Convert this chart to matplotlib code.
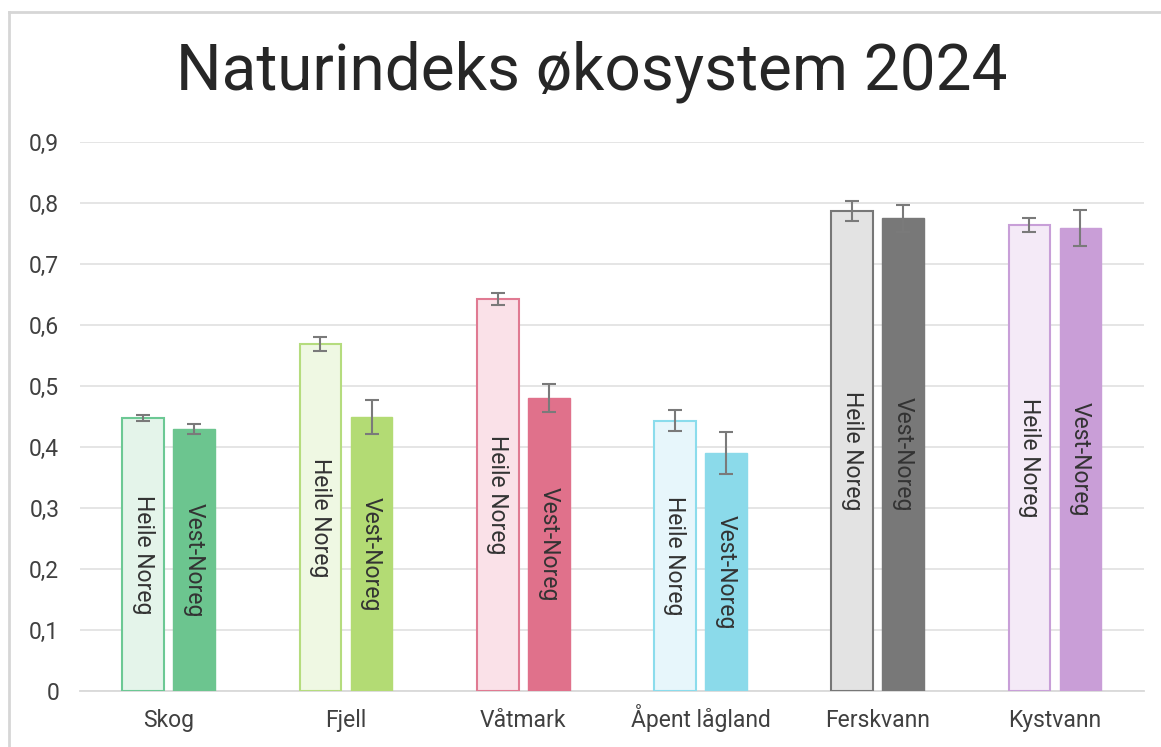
import matplotlib
matplotlib.use("Agg")
import matplotlib.pyplot as plt
import numpy as np
from matplotlib.lines import Line2D

plt.rcParams['font.family'] = ['Roboto', 'DejaVu Sans']

categories = ["Skog", "Fjell", "Våtmark", "Åpent lågland", "Ferskvann", "Kystvann"]
heile = [0.447, 0.569, 0.643, 0.443, 0.787, 0.764]
heile_err = [0.005, 0.012, 0.010, 0.017, 0.016, 0.011]
vest = [0.430, 0.449, 0.480, 0.390, 0.775, 0.759]
vest_err = [0.008, 0.028, 0.023, 0.034, 0.022, 0.030]
series_names = ["Heile Noreg", "Vest-Noreg"]
yticks = [0, 0.1, 0.2, 0.3, 0.4, 0.5, 0.6, 0.7, 0.8, 0.9]
ytick_labels = ["0", "0,1", "0,2", "0,3", "0,4", "0,5", "0,6", "0,7", "0,8", "0,9"]

heile_fill = ["#e4f4ea", "#eff8e3", "#fae1e8", "#e7f6fb", "#e3e3e3", "#f4eaf7"]
heile_edge = ["#6cc894", "#b5dc7e", "#e07a92", "#8bdcec", "#777777", "#c89fd8"]
vest_fill = ["#6cc58f", "#b3db74", "#e0718b", "#8bdaea", "#787878", "#c99ed7"]

fig = plt.figure(figsize=(11.61, 7.47), dpi=100)
ax = fig.add_axes([0.069, 0.075, 0.916, 0.735])

x = np.arange(len(categories))
w = 0.235
off = 0.144
err_kw = dict(ecolor="#7a7a7a", elinewidth=1.5, capsize=5, capthick=1.5)
ax.bar(x - off, heile, w, color=heile_fill, edgecolor=heile_edge, linewidth=1.5,
       yerr=heile_err, error_kw=err_kw, zorder=3)
ax.bar(x + off, vest, w, color=vest_fill, edgecolor=vest_fill, linewidth=1.0,
       yerr=vest_err, error_kw=err_kw, zorder=3)

for i in range(len(categories)):
    ax.text(x[i] - off, heile[i] / 2, series_names[0], rotation=-90, ha="center", va="center",
            fontsize=16.5, color="#333333", zorder=4)
    ax.text(x[i] + off, vest[i] / 2, series_names[1], rotation=-90, ha="center", va="center",
            fontsize=16.5, color="#333333", zorder=4)

ax.set_xlim(-0.5, len(categories) - 0.5)
ax.set_ylim(0, 0.9)
ax.set_yticks(yticks)
ax.set_yticklabels(ytick_labels)
ax.set_xticks(x)
ax.set_xticklabels(categories)
ax.tick_params(axis="y", length=0, labelsize=16.5, colors="#404040", pad=15)
ax.tick_params(axis="x", length=0, labelsize=16.5, colors="#404040", pad=26)
for lbl in ax.get_xticklabels():
    lbl.set_va("baseline")
for s in ["top", "right", "left"]:
    ax.spines[s].set_visible(False)
ax.spines["bottom"].set_color("#d9d9d9")
ax.spines["bottom"].set_linewidth(1.3)
ax.grid(axis="y", color="#e3e3e3", linewidth=1.3, zorder=0)
ax.set_axisbelow(True)

fig.text(0.51, 0.904, "Naturindeks økosystem 2024", ha="center", va="center",
         fontsize=46, color="#262626")

# chart frame lines (top and left)
fig.add_artist(Line2D([9/1161, 1], [1 - 12/747, 1 - 12/747], color="#d6d6d6", linewidth=2.0,
                      transform=fig.transFigure))
fig.add_artist(Line2D([9/1161, 9/1161], [0, 1 - 12/747], color="#d6d6d6", linewidth=2.0,
                      transform=fig.transFigure))

fig.savefig("out.png", dpi=100)
